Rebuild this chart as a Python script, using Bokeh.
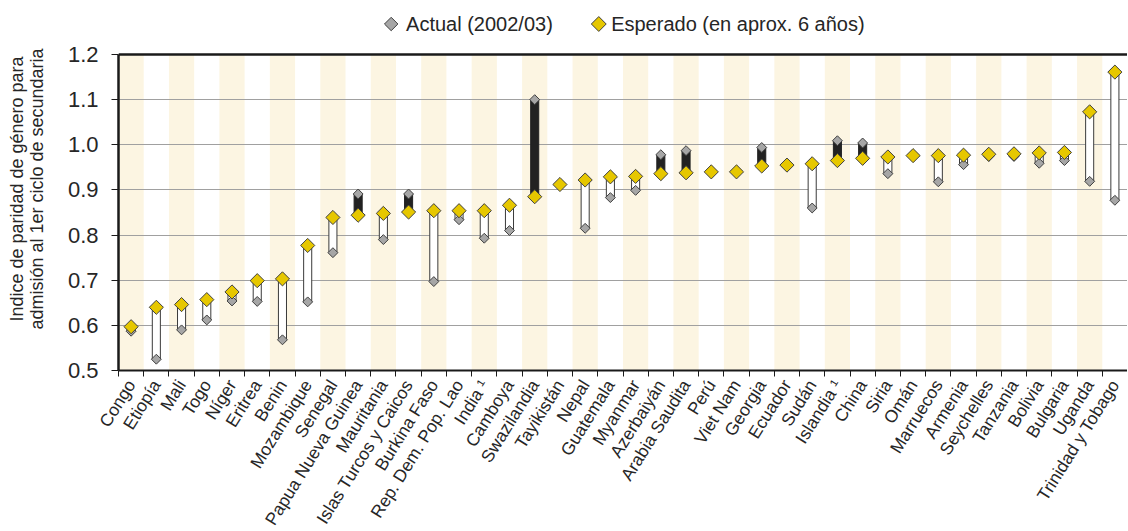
import math
from bokeh.plotting import figure
from bokeh.models import Range1d, FixedTicker, PrintfTickFormatter, Span
from bokeh.core.properties import value
from bokeh.embed import file_html
from bokeh.resources import INLINE

categories = ["Congo", "Etiopía", "Mali", "Togo", "Níger", "Eritrea", "Benin",
              "Mozambique", "Senegal", "Papua Nueva Guinea", "Mauritania",
              "Islas Turcos y Caicos", "Burkina Faso", "Rep. Dem. Pop. Lao",
              "India ¹", "Camboya", "Swazilandia", "Tayikistán", "Nepal",
              "Guatemala", "Myanmar", "Azerbaiyán", "Arabia Saudita", "Perú",
              "Viet Nam", "Georgia", "Ecuador", "Sudán", "Islandia ¹", "China",
              "Siria", "Omán", "Marruecos", "Armenia", "Seychelles", "Tanzania",
              "Bolivia", "Bulgaria", "Uganda", "Trinidad y Tobago"]

actual = [0.587, 0.525, 0.590, 0.612, 0.654, 0.653, 0.568, 0.652, 0.761, 0.891,
          0.790, 0.891, 0.697, 0.834, 0.793, 0.810, 1.100, 0.911, 0.815, 0.883,
          0.899, 0.978, 0.987, 0.940, 0.940, 0.994, 0.955, 0.860, 1.009, 1.004,
          0.936, 0.976, 0.918, 0.956, 0.974, 0.974, 0.959, 0.965, 0.919, 0.877]

expected = [0.597, 0.640, 0.646, 0.657, 0.674, 0.699, 0.703, 0.777, 0.839, 0.844,
            0.848, 0.851, 0.854, 0.854, 0.854, 0.866, 0.885, 0.912, 0.922, 0.929,
            0.930, 0.936, 0.938, 0.940, 0.940, 0.953, 0.955, 0.958, 0.965, 0.970,
            0.973, 0.976, 0.976, 0.977, 0.979, 0.980, 0.982, 0.983, 1.073, 1.161]

y_ticks = [0.5, 0.6, 0.7, 0.8, 0.9, 1.0, 1.1, 1.2]
legend_labels = ["Actual (2002/03)", "Esperado (en aprox. 6 años)"]
y_title = "Indice de paridad de género para\nadmisión al 1er ciclo de secundaria"

FONT = "Liberation Sans"
GRAY = "#A6A6A6"
YELLOW = "#E6C700"
EDGE = "#404040"
CREAM = "#FCF5E2"
TXT = "#262626"

n = len(categories)
xs = [i + 0.5 for i in range(n)]

# layout constants (pixels)
PLOT_H = 316          # height of the data area
LEGEND_BAND = 47      # white band above the data area that holds the legend
y_lo, y_hi = y_ticks[0], y_ticks[-1]
per_px = (y_hi - y_lo) / PLOT_H
y_top = y_hi + LEGEND_BAND * per_px

p = figure(frame_width=1009, frame_height=PLOT_H + LEGEND_BAND,
           x_range=Range1d(0, n), y_range=Range1d(y_lo, y_top),
           output_backend="svg", toolbar_location=None,
           min_border_left=118, min_border_right=0, min_border_top=7,
           min_border_bottom=0)
p.outline_line_color = None
p.background_fill_color = "white"
p.border_fill_color = "white"

# alternating background columns
stripe_x = [xs[i] for i in range(0, n, 2)]
stripes = p.vbar(x=stripe_x, width=1, bottom=y_lo, top=y_hi,
                 fill_color=CREAM, line_color=None)
stripes.level = "image"

p.xgrid.visible = False
p.ygrid.ticker = FixedTicker(ticks=y_ticks)
p.ygrid.grid_line_color = "#A0A0A0"
p.ygrid.grid_line_width = 1

# gap bars
up = [i for i in range(n) if expected[i] >= actual[i]]
down = [i for i in range(n) if expected[i] < actual[i]]
p.vbar(x=[xs[i] for i in up], width=0.32,
       bottom=[actual[i] for i in up], top=[expected[i] for i in up],
       fill_color="white", line_color="#3a3a3a", line_width=1)
p.vbar(x=[xs[i] for i in down], width=0.32,
       bottom=[expected[i] for i in down], top=[actual[i] for i in down],
       fill_color="#222222", line_color="#222222", line_width=1)

# diamonds
p.scatter(xs, actual, marker="square", angle=math.pi / 4, size=7,
          fill_color=GRAY, line_color=EDGE, line_width=1)
p.scatter(xs, expected, marker="square", angle=math.pi / 4, size=10,
          fill_color=YELLOW, line_color=EDGE, line_width=1)

# top border of the data area
p.add_layout(Span(location=y_hi, dimension="width",
                  line_color="#1a1a1a", line_width=2.5))

# legend in the band above the data area
leg_y = y_hi + 30.5 * per_px
leg_marker_x = [10.81, 19.04]
leg_text_x = [11.40, 19.53]
p.scatter(leg_marker_x, [leg_y, leg_y], marker="square", angle=math.pi / 4,
          size=[9.5, 10.5], fill_color=[GRAY, YELLOW], line_color=EDGE,
          line_width=1)
p.text(leg_text_x, [leg_y, leg_y], text=legend_labels, text_font=value(FONT),
       text_font_size="20px", text_color=TXT, text_align="left",
       text_baseline="middle")

# x axis: ticks between categories, labels at centres
xa = p.xaxis[0]
xa.ticker = FixedTicker(ticks=xs, minor_ticks=list(range(n + 1)))
xa.major_label_overrides = {x: c for x, c in zip(xs, categories)}
xa.major_tick_out = 0
xa.major_tick_in = 0
xa.minor_tick_out = 6
xa.minor_tick_in = 0
xa.minor_tick_line_color = "#1a1a1a"
xa.axis_line_color = "#1a1a1a"
xa.axis_line_width = 2
xa.major_label_orientation = math.radians(58)
xa.major_label_text_font = FONT
xa.major_label_text_font_size = "17.5px"
xa.major_label_text_color = TXT
xa.major_label_standoff = 5

ya = p.yaxis[0]
ya.bounds = (y_lo, y_hi)
ya.ticker = FixedTicker(ticks=y_ticks)
ya.formatter = PrintfTickFormatter(format="%.1f")
ya.major_tick_out = 7
ya.major_tick_in = 0
ya.minor_tick_out = 0
ya.minor_tick_in = 0
ya.major_tick_line_color = "#1a1a1a"
ya.axis_line_color = "#1a1a1a"
ya.axis_line_width = 2.5
ya.major_label_text_font = FONT
ya.major_label_text_font_size = "22px"
ya.major_label_text_color = TXT
ya.major_label_standoff = 13
ya.axis_label = y_title
ya.axis_label_text_font = FONT
ya.axis_label_text_font_size = "18px"
ya.axis_label_text_font_style = "normal"
ya.axis_label_text_line_height = 1.0
ya.axis_label_text_color = TXT
ya.axis_label_standoff = 18

open("out.html", "w").write(file_html(p, INLINE))
